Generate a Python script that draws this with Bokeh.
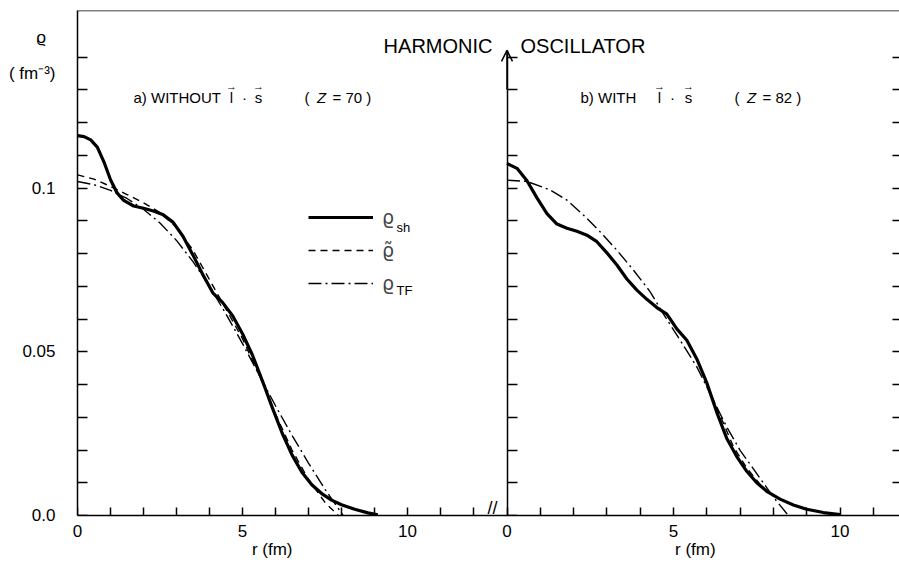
from bokeh.plotting import figure
from bokeh.models import (Range1d, LinearAxis, FixedTicker, Span, Label, Arrow,
                          OpenHead, Legend, LegendItem)
from bokeh.core.properties import value
from bokeh.embed import file_html
from bokeh.resources import INLINE

# ---- data: nucleon density rho(r) in fm^-3, harmonic oscillator potential ----
# panel a) without l.s coupling, Z = 70
r_a_sh = [0.0, 0.2, 0.4, 0.6, 0.8, 1.0, 1.2, 1.4, 1.7, 2.0, 2.3, 2.6, 2.9, 3.2, 3.5,
          3.8, 4.1, 4.4, 4.7, 5.0, 5.3, 5.6, 5.9, 6.2, 6.5, 6.8, 7.1, 7.4, 7.7, 8.0,
          8.4, 8.8, 9.1]
rho_a_sh = [0.1160, 0.1157, 0.1147, 0.1125, 0.1080, 0.1025, 0.0985, 0.0962, 0.0945,
            0.0938, 0.0930, 0.0918, 0.0895, 0.0852, 0.0795, 0.0735, 0.0680, 0.0650,
            0.0610, 0.0555, 0.0490, 0.0412, 0.0330, 0.0252, 0.0185, 0.0132, 0.0094,
            0.0067, 0.0047, 0.0033, 0.0019, 0.0008, 0.0002]

r_a_sm = [0.0, 0.5, 1.0, 1.5, 2.0, 2.5, 3.0, 3.5, 4.0, 4.5, 5.0, 5.5, 6.0, 6.5, 7.0,
          7.5, 7.9]
rho_a_sm = [0.1040, 0.1027, 0.1005, 0.0980, 0.0955, 0.0925, 0.0880, 0.0810, 0.0720,
            0.0630, 0.0540, 0.0430, 0.0310, 0.0200, 0.0110, 0.0040, 0.0000]

r_a_tf = [0.0, 0.5, 1.0, 1.5, 2.0, 2.5, 3.0, 3.5, 4.0, 4.5, 5.0, 5.5, 6.0, 6.5, 7.0,
          7.5, 8.05]
rho_a_tf = [0.1020, 0.1010, 0.0993, 0.0968, 0.0935, 0.0893, 0.0840, 0.0775, 0.0700,
            0.0615, 0.0525, 0.0430, 0.0335, 0.0245, 0.0160, 0.0080, 0.0000]

# panel b) with l.s coupling, Z = 82
r_b_sh = [0.0, 0.3, 0.6, 0.9, 1.2, 1.5, 1.8, 2.1, 2.4, 2.7, 3.0, 3.3, 3.6, 3.9, 4.2,
          4.5, 4.8, 5.1, 5.4, 5.7, 6.0, 6.3, 6.6, 6.9, 7.2, 7.5, 7.8, 8.2, 8.6, 9.0,
          9.5, 10.0]
rho_b_sh = [0.1075, 0.1060, 0.1022, 0.0970, 0.0922, 0.0890, 0.0877, 0.0868, 0.0856,
            0.0836, 0.0802, 0.0765, 0.0722, 0.0688, 0.0660, 0.0635, 0.0615, 0.0570,
            0.0535, 0.0478, 0.0405, 0.0315, 0.0235, 0.0180, 0.0135, 0.0100, 0.0074,
            0.0050, 0.0032, 0.0019, 0.0009, 0.0003]

r_b_sm = [6.0, 6.4, 6.8, 7.2, 7.6]
rho_b_sm = [0.0400, 0.0305, 0.0210, 0.0145, 0.0095]

r_b_tf = [0.0, 0.6, 1.3, 1.8, 2.3, 2.8, 3.3, 3.8, 4.3, 4.7, 5.2, 5.7, 6.1, 6.6, 7.0,
          7.5, 8.0, 8.45]
rho_b_tf = [0.1024, 0.1020, 0.0994, 0.0963, 0.0917, 0.0866, 0.0810, 0.0749, 0.0683,
            0.0615, 0.0535, 0.0454, 0.0372, 0.0270, 0.0199, 0.0128, 0.0056, 0.0000]

x_ticks_a = list(range(0, 13))
x_ticks_b = list(range(0, 12))
x_labelled = {0: "0", 5: "5", 10: "10"}
y_ticks = [round(0.01 * i, 2) for i in range(15)]
y_labelled = {0.0: "0.0", 0.05: "0.05", 0.1: "0.1"}
unit_rho, unit_rho_at = "ϱ\u00a0\u00a0", 0.1461
unit_fm, unit_fm_at = "( fm⁻³)", 0.1351
r_caption = "r  (fm)"

# ---- layout constants ----
FONT = "Liberation Sans"
W, H = 899, 562
FRAME_L = 77            # page x of r = 0 in panel a
FRAME_B = 515           # page y of rho = 0 (frame bottom)
PX_A, PX_B = 33.0, 33.3         # pixels per fm in panels a and b
ORIGIN_B = 506.5                # page x of r = 0 in panel b
PX_RHO = 3275.0                 # pixels per fm^-3
X_END = (W - FRAME_L) / PX_A
B_START = -(ORIGIN_B - FRAME_L) / PX_B
B_END = B_START + (W - FRAME_L) / PX_B
Y_TOP = (FRAME_B - 10) / PX_RHO
CAPTION_GAP = 81        # no-break spaces between the two r (fm) captions


def b_to_a(r):
    """position of a panel-b radius on the panel-a scale"""
    return (r - B_START) * X_END / (B_END - B_START)


p = figure(width=W, height=H, title=None, output_backend="svg", toolbar_location=None,
           x_range=Range1d(0, X_END), y_range=Range1d(0, Y_TOP),
           x_axis_location=None, y_axis_location=None,
           min_border_left=FRAME_L, min_border_right=0, min_border_top=10,
           min_border_bottom=H - FRAME_B)
p.extra_x_ranges = {"b": Range1d(B_START, B_END)}
p.xgrid.visible = False
p.ygrid.visible = False
p.outline_line_color = None
p.background_fill_color = "white"
p.border_fill_color = "white"

AX = dict(minor_tick_line_color=None, major_tick_line_width=1.5, axis_line_width=1.5,
          major_label_text_font=FONT, major_label_text_color="black")
NOLABEL = dict(major_label_text_font_size="0px", major_label_standoff=0)

# bottom axis: line, tick labels and the r (fm) captions of both panels
lab_ticks, lab_text = [], {}
for t in x_ticks_a:
    if t in x_labelled:
        lab_ticks.append(float(t))
        lab_text[float(t)] = x_labelled[t]
for t in x_ticks_b:
    if t in x_labelled:
        lab_ticks.append(b_to_a(t))
        lab_text[b_to_a(t)] = x_labelled[t]
xlab = LinearAxis(ticker=FixedTicker(ticks=lab_ticks), major_label_overrides=lab_text,
                  major_tick_line_color=None,
                  major_label_standoff=3, major_label_text_font_size="17px",
                  axis_label=r_caption + "\u00a0" * CAPTION_GAP + r_caption,
                  axis_label_standoff=0, axis_label_text_font=FONT,
                  axis_label_text_font_size="17px", axis_label_text_font_style="normal",
                  axis_label_text_color="black", **AX)
p.add_layout(xlab, "below")

# bottom axis: inward tick marks of both panels
mark_ticks = [float(t) for t in x_ticks_a] + [b_to_a(t) for t in x_ticks_b]
xmark = LinearAxis(ticker=FixedTicker(ticks=mark_ticks),
                   major_label_overrides={t: "" for t in mark_ticks},
                   fixed_location=0, axis_line_color=None,
                   major_tick_in=8, major_tick_out=0, **NOLABEL, **AX)
p.add_layout(xmark, "below")

# left axis of panel a: line, labels and the density unit
y_lab_ticks = [t for t in y_ticks if t in y_labelled] + [unit_fm_at, unit_rho_at]
y_lab_text = {t: y_labelled[t] for t in y_ticks if t in y_labelled}
y_lab_text[unit_fm_at] = unit_fm
y_lab_text[unit_rho_at] = unit_rho
ylab = LinearAxis(ticker=FixedTicker(ticks=y_lab_ticks), major_label_overrides=y_lab_text,
                  major_tick_line_color=None,
                  major_label_standoff=16, major_label_text_font_size="17px", **AX)
p.add_layout(ylab, "left")

ymark = LinearAxis(ticker=FixedTicker(ticks=y_ticks), fixed_location=0,
                   major_label_overrides={t: "" for t in y_ticks}, axis_line_color=None,
                   major_tick_in=10, major_tick_out=0, **NOLABEL, **AX)
p.add_layout(ymark, "left")

# vertical axis through r = 0 of panel b, ending in an arrow
yb = LinearAxis(x_range_name="b", fixed_location=0, bounds=(0, 0.142),
                ticker=FixedTicker(ticks=y_ticks),
                major_label_overrides={t: "" for t in y_ticks},
                major_tick_in=10, major_tick_out=0, **NOLABEL, **AX)
p.add_layout(yb, "left")
p.add_layout(Arrow(x_range_name="b", x_start=0, y_start=0.13, x_end=0, y_end=0.142,
                   line_width=1.5, end=OpenHead(size=11, line_width=1.5)))

# inward ticks along the right edge
edge = LinearAxis(ticker=FixedTicker(ticks=y_ticks[1:]), fixed_location=X_END,
                  major_label_overrides={t: "" for t in y_ticks[1:]},
                  axis_line_color=None, major_tick_in=0, major_tick_out=7,
                  **NOLABEL, **AX)
p.add_layout(edge, "left")

p.add_layout(Span(location=Y_TOP, dimension="width", line_color="black", line_width=1.5))

# ---- curves ----
solid = dict(line_color="black", line_width=3.2)
dashed = dict(line_color="black", line_width=1.4, line_dash="7 5")
dashdot = dict(line_color="black", line_width=1.4, line_dash="13 4 2 4")

l_sh = p.line(r_a_sh, rho_a_sh, **solid)
l_sm = p.line(r_a_sm, rho_a_sm, **dashed)
l_tf = p.line(r_a_tf, rho_a_tf, **dashdot)
p.line(r_b_sh, rho_b_sh, x_range_name="b", **solid)
p.line(r_b_sm, rho_b_sm, x_range_name="b", **dashed)
p.line(r_b_tf, rho_b_tf, x_range_name="b", **dashdot)

# legend (symbols; the subscripts are separate labels)
legend = Legend(items=[LegendItem(label=value("ϱ"), renderers=[l_sh]),
                       LegendItem(label=value("ϱ̃"), renderers=[l_sm]),
                       LegendItem(label=value("ϱ"), renderers=[l_tf])],
                location=(231, FRAME_B - 294), padding=0, margin=0, spacing=11,
                glyph_width=65, glyph_height=20, label_height=20, label_standoff=9,
                label_text_font="DejaVu Sans", label_text_font_size="19px",
                border_line_color=None, background_fill_alpha=0)
p.add_layout(legend, "center")


def text(px, py, s, size=15, align="left", style="normal", font=FONT):
    p.add_layout(Label(x=px - FRAME_L, y=FRAME_B - py, x_units="screen", y_units="screen",
                       text=s, text_font=font, text_font_size=f"{size}px",
                       text_align=align, text_baseline="middle",
                       text_font_style=style, text_color="black"))


text(396, 227, "sh", size=13)
text(396, 290, "TF", size=13)

text(492, 45, "HARMONIC", size=20, align="right")
text(520, 45, "OSCILLATOR", size=20, align="left")

text(133, 97, "a)   WITHOUT", size=15)
text(231, 97, "l", size=15, align="center")
text(244, 97, "·", size=15, align="center")
text(258, 97, "s", size=15, align="center")
text(231, 85, "→", size=11, align="center")
text(258, 85, "→", size=11, align="center")
text(304, 97, "(", size=15)
text(321, 97, "Z", size=15, align="center", style="italic")
text(332, 97, "= 70 )", size=15)

text(580, 97, "b)   WITH", size=15)
text(659, 97, "l", size=15, align="center")
text(672, 97, "·", size=15, align="center")
text(688, 97, "s", size=15, align="center")
text(659, 85, "→", size=11, align="center")
text(688, 85, "→", size=11, align="center")
text(734, 97, "(", size=15)
text(751, 97, "Z", size=15, align="center", style="italic")
text(762, 97, "= 82 )", size=15)

text(492, 507, "//", size=18, align="center")

open("out.html", "w").write(file_html(p, INLINE))
